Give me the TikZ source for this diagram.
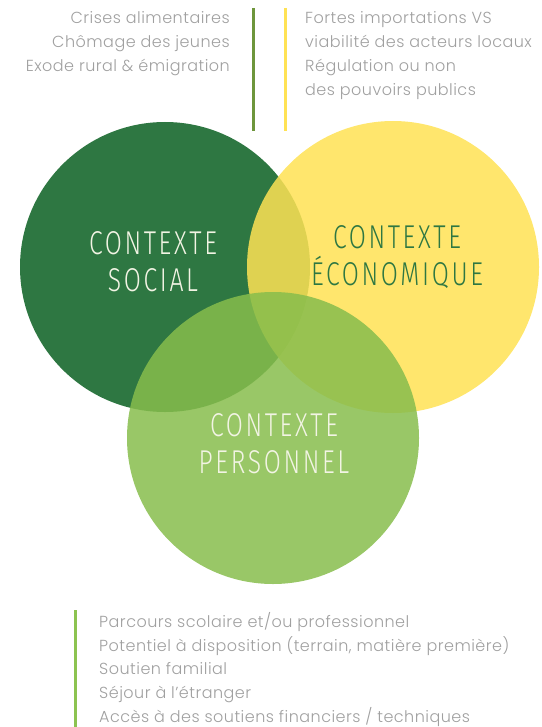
\documentclass[tikz,border=0pt]{standalone}
\usepackage{fontspec}
\setmainfont{Poppins}[UprightFont={* Light},LetterSpace=3]
\newfontfamily\labfont[FakeStretch=0.75,LetterSpace=8,UprightFont={* Light}]{Fira Sans}
\definecolor{dgreen}{RGB}{46,119,66}
\definecolor{yel}{RGB}{255,226,84}
\definecolor{lgreen}{RGB}{135,189,76}
\definecolor{txtgray}{RGB}{160,160,160}
\definecolor{olive}{RGB}{110,150,60}
\definecolor{barg}{RGB}{140,195,80}
\definecolor{cream}{RGB}{242,244,228}
\tikzset{
  info/.style={text=txtgray, font=\fontsize{16}{24}\selectfont, inner sep=0pt},
  lab/.style={font=\labfont\fontsize{33}{37}\selectfont, align=center, inner sep=0pt},
  bar/.style={line width=3pt}
}
\begin{document}
\begin{tikzpicture}[x=1pt,y=-1pt]
\useasboundingbox (0,0) rectangle (541,727);
% circles
\fill[dgreen] (165,267) circle (145);
\fill[yel, opacity=0.85] (393,267) circle (146);
\fill[lgreen, opacity=0.85] (273,438) circle (146);
% bars
\coordinate (b1t) at (253,8); \coordinate (b1b) at (253,131);
\coordinate (b2t) at (285,8); \coordinate (b2b) at (285,131);
\coordinate (b3t) at (75,610); \coordinate (b3b) at (75,727);
\draw[bar, olive] (b1t) -- (b1b);
\draw[bar, yel] (b2t) -- (b2b);
\draw[bar, barg] (b3t) -- (b3b);
% top left text
\node[info, anchor=base east] (t1) at (230,24) {Crises alimentaires};
\node[info, anchor=base east] (t2) at (230,48) {Chômage des jeunes};
\node[info, anchor=base east] (t3) at (230,72) {Exode rural \& émigration};
% top right text
\node[info, anchor=base west] (r1) at (305,24) {Fortes importations VS};
\node[info, anchor=base west] (r2) at (305,48) {viabilité des acteurs locaux};
\node[info, anchor=base west] (r3) at (305,72) {Régulation ou non};
\node[info, anchor=base west] (r4) at (305,96) {des pouvoirs publics};
% bottom text
\node[info, anchor=base west] (p1) at (99,627) {Parcours scolaire et/ou professionnel};
\node[info, anchor=base west] (p2) at (99,651) {Potentiel à disposition (terrain, matière première)};
\node[info, anchor=base west] (p3) at (99,674) {Soutien familial};
\node[info, anchor=base west] (p4) at (99,698) {Séjour à l’étranger};
\node[info, anchor=base west] (p5) at (99,722) {Accès à des soutiens financiers / techniques};
% labels
\node[lab, text=cream] (soc) at (153,262) {CONTEXTE\\SOCIAL};
\node[lab, text=dgreen] (eco) at (397,257) {CONTEXTE\\ÉCONOMIQUE};
\node[lab, text=cream] (per) at (274,444) {CONTEXTE\\PERSONNEL};
\end{tikzpicture}
\end{document}
